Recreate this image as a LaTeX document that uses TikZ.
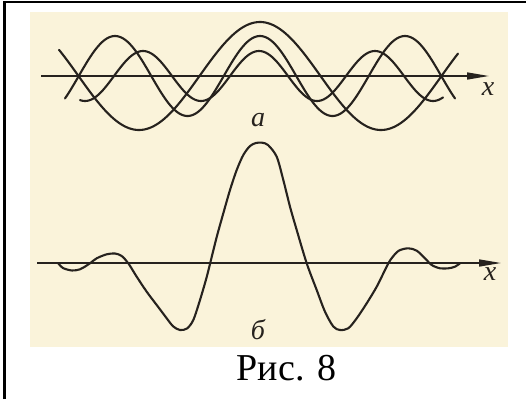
\documentclass[tikz,border=0pt]{standalone}
\usepackage{fontspec}
\setmainfont{Liberation Serif}
\newfontfamily\capfont{Liberation Serif}
\usetikzlibrary{arrows.meta}
\definecolor{paper}{RGB}{250,243,218}
\definecolor{ink}{RGB}{38,34,30}
\begin{document}
\begin{tikzpicture}[x=1pt,y=-1pt,
  curve/.style={ink, line width=2.1pt, line cap=round, line join=round},
  axisline/.style={ink, line width=1.5pt, -{Triangle[length=22pt,width=7pt]}},
  lbl/.style={ink, font=\fontsize{28}{30}\selectfont\itshape, inner sep=0pt}]
\useasboundingbox (0,0) rectangle (526,399);
% scanned paper area
\fill[paper] (30,12) rectangle (508,347);
% frame (top and left)
\draw[black, line width=2.4pt] (4.5,399) -- (4.5,2.2) -- (526,2.2);

% ---- panel a ----
\coordinate (a0) at (41,76);
\coordinate (a1) at (489,76);
\draw[axisline] (a0) -- (a1);
\draw[curve] plot[domain=59:458,samples=200] (\x,{76-54*cos(1.48760*(\x-260))});
\draw[curve] plot[domain=65:455,samples=200] (\x,{76-40*cos(2.48276*(\x-260))});
\draw[curve] plot[domain=80:443,samples=200] (\x,{76-25*cos(3.10345*(\x-259))});
\node[lbl] (lx1) at (488,89) {x};
\node[lbl] (la) at (258,120) {а};

% ---- panel b ----
\coordinate (b0) at (37,263);
\coordinate (b1) at (501,263);
\draw[axisline] (b0) -- (b1);
\draw[curve] plot[smooth, tension=0.5] coordinates {
  (58,263) (63,268) (72,270.5) (80,269.3) (86.7,265.5) (90,263.3) (96.7,258.3)
  (106.7,254.3) (115,253.5) (121.7,256) (128.3,263.3) (136.7,276.7) (146.7,291.7)
  (156.7,305) (166.7,318.3) (173.3,326.5) (180,330) (187,328.5) (193.3,320)
  (200,300) (206.7,277) (211.7,257) (216.7,237) (223.3,213.3) (230,190)
  (236.7,170) (243.3,155) (250,146) (256,143) (262,142.7) (268,145)
  (276.7,156.7) (283.3,180) (290,206.7) (296.7,230) (306.7,263.3) (316.7,290)
  (325,311.7) (333.3,326.5) (340,330) (348.3,328.3) (356.7,318.3) (366.7,303.3)
  (376.7,286.7) (385,270) (390,260.5) (398.3,251) (408.3,248.3) (416.7,250.7)
  (425,258.3) (431.7,265) (440,268.3) (448.3,268.3) (455,266.7) (460,263.3)};
\node[lbl] (lx2) at (490,274) {x};
\node[lbl] (lb) at (258,330) {б};

% ---- caption ----
\node[font=\capfont\fontsize{38}{40}\selectfont, anchor=base, inner sep=0pt] (cap) at (286.5,380) {Рис. 8};
\end{tikzpicture}
\end{document}
